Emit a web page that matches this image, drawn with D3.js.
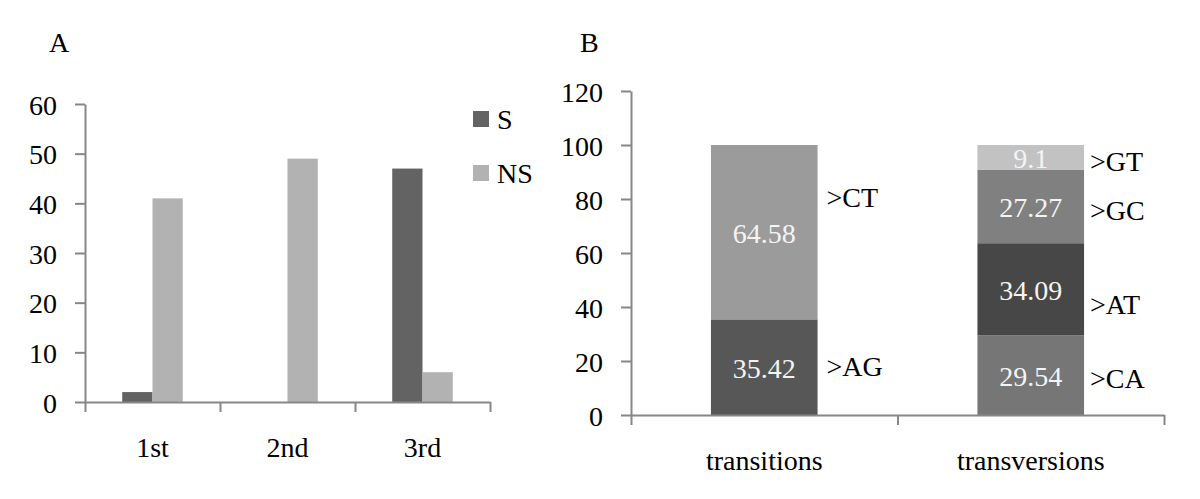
<!DOCTYPE html>
<html>
<head>
<meta charset="utf-8">
<script src="https://cdn.jsdelivr.net/npm/d3@7"></script>
<style>
  body { margin: 0; background: #fff; }
  .axis path, .axis line { stroke: #878787; stroke-width: 2px; }
</style>
</head>
<body>
<div id="chart"></div>
<script>
const w = 1200;
const h = 499;
const font = "'Liberation Serif', 'Times New Roman', Times, 'Nimbus Roman', 'Noto Serif', FreeSerif, 'DejaVu Serif', serif";

// panel A: codon positions
const positions = ["1st", "2nd", "3rd"];
const seriesA = ["S", "NS"];
const valuesS = [2, 0, 47];
const valuesNS = [41, 49, 6];
const ticksA = [0, 10, 20, 30, 40, 50, 60];

// panel B: substitution types (stacked, bottom to top)
const types = ["transitions", "transversions"];
const transitionLabels = [">AG", ">CT"];
const transitionValues = [35.42, 64.58];
const transversionLabels = [">CA", ">AT", ">GC", ">GT"];
const transversionValues = [29.54, 34.09, 27.27, 9.1];
// where the side labels sit, in axis units
const transitionLabelY = [18, 80.7];
const transversionLabelY = [13.7, 41, 76, 94];
const ticksB = [0, 20, 40, 60, 80, 100, 120];

const colorsA = { S: "#636363", NS: "#b2b2b2" };
const colorsTransitions = ["#575757", "#9b9b9b"];
const colorsTransversions = ["#767676", "#474747", "#808080", "#c2c2c2"];

const svg = d3.select("#chart").append("svg")
  .attr("width", w).attr("height", h)
  .style("font-family", font)
  .style("font-size", "28px");

const styleText = (g) => g.selectAll("text")
  .attr("fill", "#000")
  .style("font-family", font)
  .style("font-size", "28px");

// ---------- panel A ----------
const a = { left: 85, right: 490, top: 104, bottom: 402 };

const yA = d3.scaleLinear().domain([0, 60]).range([a.bottom, a.top]);
const xA = d3.scaleBand().domain(positions).range([a.left, a.right]);
const xInner = d3.scaleBand().domain(seriesA).range([0, xA.bandwidth()]).paddingOuter(1.23);
const edgesA = d3.scaleLinear().domain([0, positions.length]).range([a.left, a.right]);

svg.append("text").attr("x", 49).attr("y", 52).text("A");

const barsA = svg.append("g");
positions.forEach((p, i) => {
  const rows = [{ s: "S", v: valuesS[i] }, { s: "NS", v: valuesNS[i] }];
  barsA.selectAll(null).data(rows).enter().append("rect")
    .attr("x", (d) => xA(p) + xInner(d.s))
    .attr("width", xInner.bandwidth())
    .attr("y", (d) => yA(d.v))
    .attr("height", (d) => yA(0) - yA(d.v))
    .style("fill", (d) => colorsA[d.s]);
});

svg.append("g").attr("class", "axis")
  .attr("transform", `translate(${a.left},0)`)
  .call(d3.axisLeft(yA).tickValues(ticksA).tickSize(10).tickSizeOuter(0).tickPadding(18))
  .call(styleText)
  .call((g) => g.selectAll("text").attr("dy", "0.36em"));

svg.append("g").attr("class", "axis")
  .attr("transform", `translate(0,${a.bottom})`)
  .call(d3.axisBottom(edgesA).tickValues(d3.range(positions.length + 1)).tickSize(10).tickSizeOuter(0).tickFormat(""));

svg.append("g")
  .attr("transform", `translate(0,${a.bottom})`)
  .call(d3.axisBottom(xA).tickSize(0).tickPadding(35))
  .call((g) => g.select(".domain").remove())
  .call(styleText);

// legend
const legend = svg.append("g").attr("transform", "translate(473,111)");
seriesA.forEach((s, i) => {
  const row = legend.append("g").attr("transform", `translate(0,${i * 54})`);
  row.append("rect").attr("width", 16).attr("height", 16).style("fill", colorsA[s]);
  row.append("text").attr("x", 24).attr("y", 8).attr("dy", "0.35em").text(s);
});

// ---------- panel B ----------
const b = { left: 631, right: 1164, top: 91, bottom: 415 };

const yB = d3.scaleLinear().domain([0, 120]).range([b.bottom, b.top]);
const xB = d3.scaleBand().domain(types).range([b.left, b.right]).paddingInner(0.6).paddingOuter(0.3);
const edgesB = d3.scaleLinear().domain([0, types.length]).range([b.left, b.right]);

svg.append("text").attr("x", 580).attr("y", 52).text("B");

const stacks = [
  { type: "transitions", labels: transitionLabels, values: transitionValues, labelY: transitionLabelY, colors: colorsTransitions, gap: 9 },
  { type: "transversions", labels: transversionLabels, values: transversionValues, labelY: transversionLabelY, colors: colorsTransversions, gap: 6 }
];

stacks.forEach((st) => {
  let acc = 0;
  const segs = st.values.map((v, i) => {
    const seg = { y0: acc, y1: acc + v, v, label: st.labels[i], labelY: st.labelY[i], color: st.colors[i] };
    acc += v;
    return seg;
  });
  const g = svg.append("g");
  g.selectAll("rect").data(segs).enter().append("rect")
    .attr("x", xB(st.type))
    .attr("width", xB.bandwidth())
    .attr("y", (d) => yB(d.y1))
    .attr("height", (d) => yB(d.y0) - yB(d.y1))
    .style("fill", (d) => d.color);
  g.selectAll("text.val").data(segs).enter().append("text")
    .attr("class", "val")
    .attr("x", xB(st.type) + xB.bandwidth() / 2)
    .attr("y", (d) => yB((d.y0 + d.y1) / 2))
    .attr("dy", "0.38em")
    .attr("text-anchor", "middle")
    .style("fill", "#f4f4f4")
    .text((d) => d.v);
  g.selectAll("text.lab").data(segs).enter().append("text")
    .attr("class", "lab")
    .attr("x", xB(st.type) + xB.bandwidth() + st.gap)
    .attr("y", (d) => yB(d.labelY))
    .attr("dy", "0.36em")
    .text((d) => d.label);
});

svg.append("g").attr("class", "axis")
  .attr("transform", `translate(${b.left},0)`)
  .call(d3.axisLeft(yB).tickValues(ticksB).tickSize(10).tickSizeOuter(0).tickPadding(18))
  .call(styleText)
  .call((g) => g.selectAll("text").attr("dy", "0.36em"));

svg.append("g").attr("class", "axis")
  .attr("transform", `translate(0,${b.bottom})`)
  .call(d3.axisBottom(edgesB).tickValues(d3.range(types.length + 1)).tickSize(10).tickSizeOuter(0).tickFormat(""));

svg.append("g")
  .attr("transform", `translate(0,${b.bottom})`)
  .call(d3.axisBottom(d3.scaleBand().domain(types).range([b.left, b.right])).tickSize(0).tickPadding(35))
  .call((g) => g.select(".domain").remove())
  .call(styleText);
</script>
</body>
</html>
